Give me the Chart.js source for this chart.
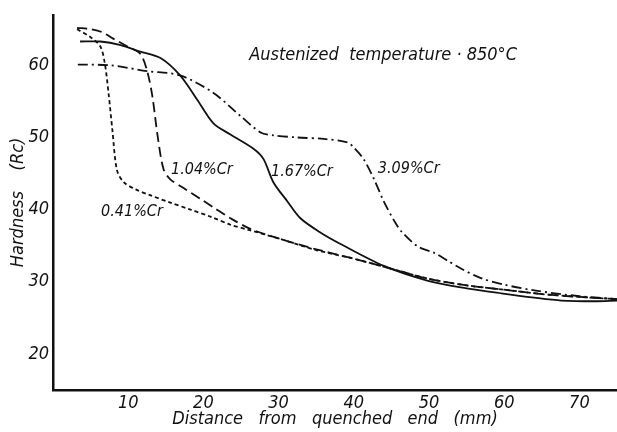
<!DOCTYPE html>
<html lang="en">
<head>
    <meta charset="UTF-8">
    <title>Jominy hardness curves</title>
    <script src="https://cdn.jsdelivr.net/npm/chart.js"></script>
    <style>
        html, body { margin: 0; padding: 0; background: #fff; }
        #wrap { width: 617px; height: 432px; }
    </style>
</head>
<body>
    <div id="wrap"><canvas id="jominy"></canvas></div>

    <script>
        // distance from quenched end (mm) / hardness (Rc)
        const cr041X = [3.2, 5, 6.3, 6.9, 7.4, 7.9, 8.5, 9.4, 11, 12.9, 15.5, 18.3, 21, 23.6, 26, 30, 35, 40, 45, 50, 55, 60, 65, 70, 75];
        const cr041Y = [65, 63.9, 62.6, 60.2, 56, 51, 45.5, 43.8, 42.8, 42, 41, 40, 39, 37.9, 37.2, 36, 34.4, 33.2, 31.8, 30.4, 29.5, 28.9, 28.3, 27.9, 27.6];

        const cr104X = [3.2, 5, 6.5, 8, 9.9, 11.6, 12.5, 13.2, 13.9, 14.7, 15.6, 17.5, 19.6, 21.5, 23.6, 26.3, 30, 35, 40, 45, 50, 55, 60, 65, 70, 75];
        const cr104Y = [65.2, 65, 64.6, 63.7, 62.6, 61.6, 59.3, 55.8, 50.3, 45.6, 44.2, 42.9, 41.5, 40.2, 38.8, 37.3, 36, 34.5, 33.2, 31.8, 30.4, 29.5, 28.9, 28.3, 27.9, 27.6];

        const cr167X = [3.6, 6.3, 9, 11.6, 14.3, 16.9, 19.2, 21.3, 23.6, 26.7, 28, 29.3, 31.2, 32.9, 35.6, 38.3, 44, 50, 55, 59.6, 64, 67.6, 72, 75];
        const cr167Y = [63.3, 63.3, 62.8, 61.9, 61, 58.6, 55.2, 52, 50.4, 48.4, 47, 43.8, 41.1, 38.8, 36.8, 35.2, 32.2, 30.1, 29.1, 28.4, 27.8, 27.4, 27.3, 27.4];

        const cr309X = [3.3, 7.6, 12.5, 16.9, 21.3, 24.9, 27.6, 29.3, 32.5, 36, 39.2, 40, 41.3, 42.7, 44, 45.4, 46.3, 48.5, 50.7, 52.5, 54.3, 56.9, 60, 64, 70, 75];
        const cr309Y = [60.1, 60, 59.2, 58.6, 56.2, 53, 50.7, 50.3, 50, 49.8, 49.3, 48.6, 47, 44.2, 41.1, 38.4, 37, 34.9, 34, 32.9, 31.8, 30.5, 29.6, 28.8, 28, 27.6];

        const xTicks = [10, 20, 30, 40, 50, 60, 70];
        const yTicks = [20, 30, 40, 50, 60];

        const handFont = '"DejaVu Sans Condensed", "Liberation Sans Narrow", sans-serif';

        const toPoints = (xs, ys) => xs.map((x, i) => ({ x: x, y: ys[i] }));

        // text written straight onto the plot, at data positions
        const notes = [
            { text: 'Austenized  temperature · 850°C', x: 43.9, y: 61.4, size: 18 },
            { text: '0.41%Cr', x: 10.5, y: 39.7, size: 16 },
            { text: '1.04%Cr', x: 19.8, y: 45.5, size: 16 },
            { text: '1.67%Cr', x: 33.1, y: 45.2, size: 16 },
            { text: '3.09%Cr', x: 47.3, y: 45.6, size: 16 }
        ];

        const notesPlugin = {
            id: 'notes',
            afterDatasetsDraw(chart) {
                const c = chart.ctx;
                const sx = chart.scales.x, sy = chart.scales.y;
                c.save();
                c.fillStyle = '#111';
                c.textAlign = 'center';
                c.textBaseline = 'middle';
                notes.forEach(n => {
                    c.font = 'italic ' + n.size + 'px ' + handFont;
                    c.fillText(n.text, sx.getPixelForValue(n.x), sy.getPixelForValue(n.y));
                });
                c.restore();
            }
        };

        const line = (label, xs, ys, dash, width) => ({
            label: label,
            data: toPoints(xs, ys),
            showLine: true,
            borderColor: '#111',
            borderWidth: width,
            borderDash: dash,
            pointRadius: 0,
            tension: 0.3,
            fill: false
        });

        new Chart(document.getElementById('jominy'), {
            type: 'scatter',
            data: {
                datasets: [
                    line('0.41%Cr', cr041X, cr041Y, [4, 3], 1.8),
                    line('1.04%Cr', cr104X, cr104Y, [10, 5], 1.8),
                    line('1.67%Cr', cr167X, cr167Y, [], 1.8),
                    line('3.09%Cr', cr309X, cr309Y, [10, 4, 2, 4], 1.8)
                ]
            },
            plugins: [notesPlugin],
            options: {
                responsive: true,
                maintainAspectRatio: false,
                animation: false,
                layout: { padding: { top: 12, right: 0, left: 0, bottom: 0 } },
                plugins: {
                    legend: { display: false },
                    tooltip: { enabled: false }
                },
                scales: {
                    x: {
                        type: 'linear',
                        min: 0,
                        max: 75,
                        afterBuildTicks: s => { s.ticks = xTicks.map(v => ({ value: v })); },
                        afterFit: s => { s.height = 42; },
                        grid: { display: false, drawTicks: false },
                        border: { display: true, color: '#111', width: 2.5 },
                        ticks: {
                            color: '#111',
                            padding: 3,
                            maxRotation: 0,
                            font: { family: handFont, size: 18, style: 'italic' }
                        },
                        title: {
                            display: true,
                            text: 'Distance   from   quenched   end   (mm)',
                            color: '#111',
                            padding: { top: 0, bottom: 2 },
                            font: { family: handFont, size: 18, style: 'italic' }
                        }
                    },
                    y: {
                        type: 'linear',
                        min: 15,
                        max: 67,
                        afterBuildTicks: s => { s.ticks = yTicks.map(v => ({ value: v })); },
                        afterFit: s => { s.width = 53; },
                        grid: { display: false, drawTicks: false },
                        border: { display: true, color: '#111', width: 2.5 },
                        ticks: {
                            color: '#111',
                            padding: 4,
                            font: { family: handFont, size: 18, style: 'italic' }
                        },
                        title: {
                            display: true,
                            text: 'Hardness    (Rc)',
                            color: '#111',
                            padding: { top: 8, bottom: 0 },
                            font: { family: handFont, size: 18, style: 'italic' }
                        }
                    }
                }
            }
        });
    </script>
</body>
</html>
